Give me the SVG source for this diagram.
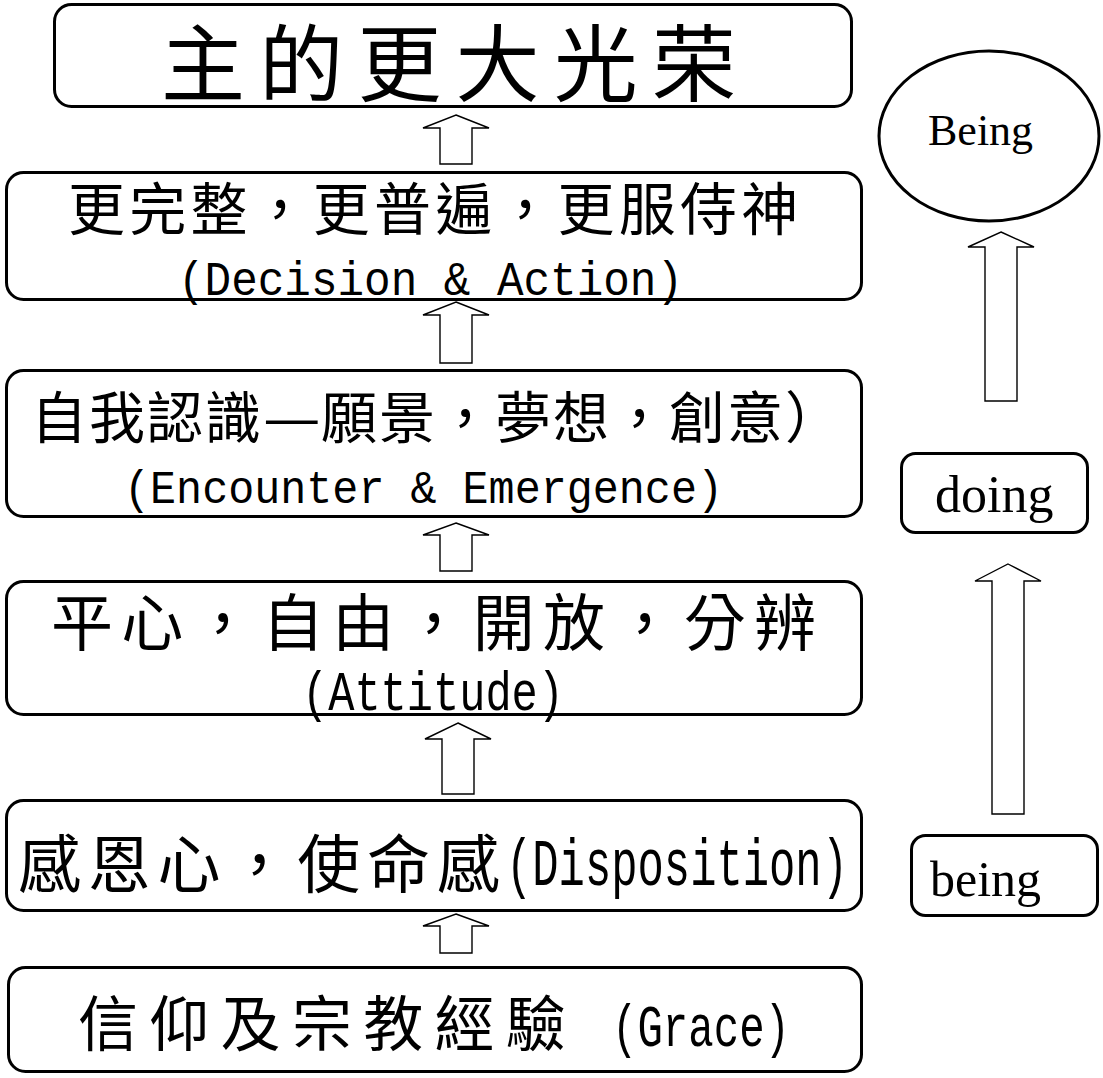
<svg xmlns="http://www.w3.org/2000/svg" width="1103" height="1078" viewBox="0 0 1103 1078">
<style>
.box{fill:#fff;stroke:#000;stroke-width:3}
.arr{fill:#fff;stroke:#000;stroke-width:1.4;stroke-linejoin:miter}
.cjk{font-family:"Noto Sans CJK TC","Noto Sans CJK SC",sans-serif;font-weight:normal;fill:#000}
.mono{font-family:"Liberation Mono",monospace;fill:#000}
.ser{font-family:"Liberation Serif",serif;fill:#000}
</style>
<rect width="1103" height="1078" fill="#fff"/>
<g id="connectors">
<polygon class="arr" points="456,115 489,128 472,128 472,164 440,164 440,128 423,128"/>
<polygon class="arr" points="456,302 489,315 472,315 472,363 440,363 440,315 423,315"/>
<polygon class="arr" points="456,523 489,535 472,535 472,571 440,571 440,535 423,535"/>
<polygon class="arr" points="458,723 491,739 474,739 474,794 442,794 442,739 425,739"/>
<polygon class="arr" points="456,914 489,926 472,926 472,953 440,953 440,926 423,926"/>
<polygon class="arr" points="1001,232 1034,247 1017,247 1017,401 985,401 985,247 968,247"/>
<polygon class="arr" points="1008,564 1041,581 1024,581 1024,814 992,814 992,581 975,581"/>
</g>
<g id="n-glory">
<rect class="box" x="54.5" y="4.5" width="797" height="102" rx="17"/>
<text class="cjk" x="161" y="95" font-size="84" letter-spacing="14.2">主的更大光荣</text>
</g>
<g id="n-decision">
<rect class="box" x="6.5" y="172.5" width="855" height="127" rx="17"/>
<text class="cjk" x="68" y="230" font-size="57" letter-spacing="4.2">更完整，更普遍，更服侍神</text>
<text class="mono" x="178" y="295" font-size="48" textLength="505" lengthAdjust="spacingAndGlyphs">(Decision &amp; Action)</text>
</g>
<g id="n-encounter">
<rect class="box" x="6.5" y="370.5" width="855" height="146" rx="17"/>
<text class="cjk" x="31" y="438" font-size="56" letter-spacing="2"><tspan>自我認識</tspan><tspan x="263" textLength="60" lengthAdjust="spacingAndGlyphs">—</tspan><tspan x="321">願景，夢想，創意）</tspan></text>
<text class="mono" x="124" y="503" font-size="46" textLength="599" lengthAdjust="spacingAndGlyphs">(Encounter &amp; Emergence)</text>
</g>
<g id="n-attitude">
<rect class="box" x="6.5" y="581.5" width="855" height="133" rx="17"/>
<text class="cjk" x="51" y="646" font-size="62" letter-spacing="8.3">平心，自由，開放，分辨</text>
<text class="mono" x="302" y="710" font-size="56" textLength="262" lengthAdjust="spacingAndGlyphs">(Attitude)</text>
</g>
<g id="n-disposition">
<rect class="box" x="6.5" y="800.5" width="855" height="110" rx="17"/>
<text class="cjk" x="18" y="887" font-size="63" letter-spacing="6.8">感恩心，使命感</text>
<text class="mono" transform="translate(506,885) scale(1,1.3)" x="0" y="0" font-size="51" textLength="342" lengthAdjust="spacingAndGlyphs">(Disposition)</text>
</g>
<g id="n-grace">
<rect class="box" x="8.5" y="967.5" width="853" height="104" rx="17"/>
<text class="cjk" x="78" y="1046" font-size="60" letter-spacing="11.3">信仰及宗教經驗</text>
<text class="mono" x="612" y="1046" font-size="60" textLength="178" lengthAdjust="spacingAndGlyphs">(Grace)</text>
</g>
<g id="n-Being">
<ellipse class="box" cx="989" cy="136" rx="110" ry="85"/>
<text class="ser" x="928" y="145" font-size="44">Being</text>
</g>
<g id="n-doing">
<rect class="box" x="901.5" y="453.5" width="186" height="79" rx="14"/>
<text class="ser" x="935" y="512" font-size="52">doing</text>
</g>
<g id="n-being">
<rect class="box" x="911.5" y="835.5" width="186" height="80" rx="14"/>
<text class="ser" x="930" y="896" font-size="50">being</text>
</g>
</svg>
